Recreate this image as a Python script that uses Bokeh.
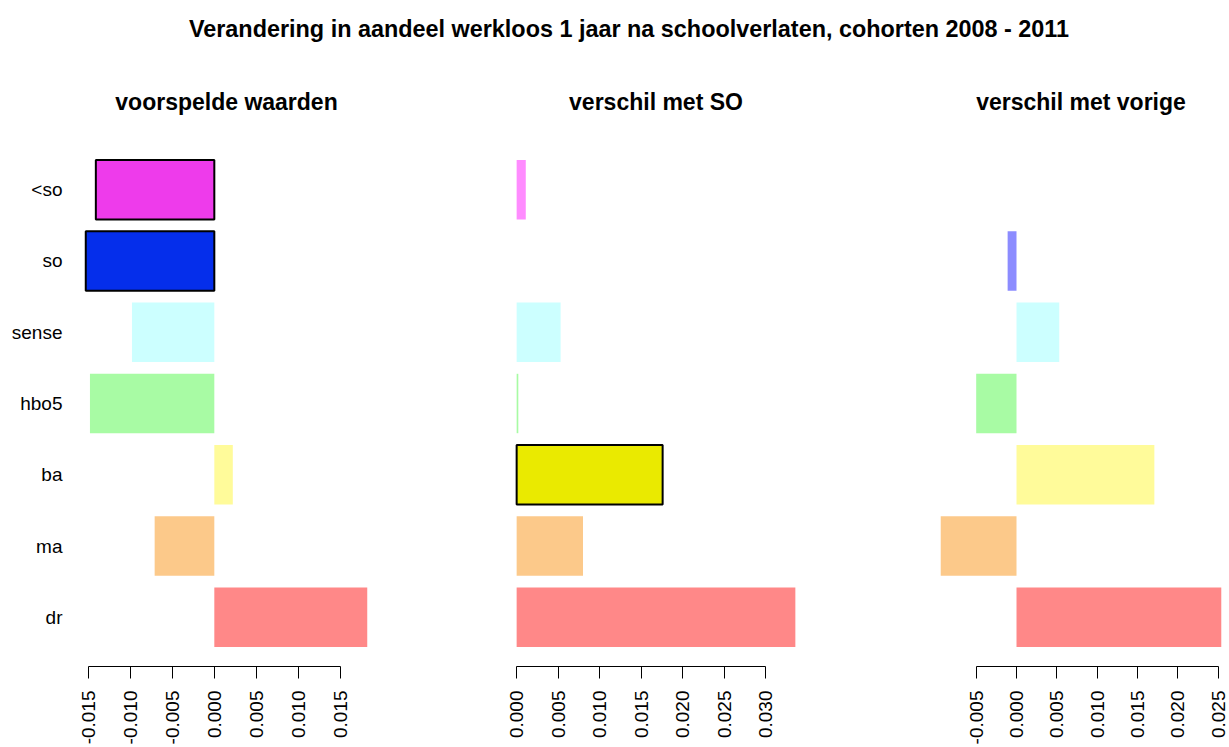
import math
from bokeh.plotting import figure
from bokeh.models import Range1d, FactorRange, FixedTicker, PrintfTickFormatter, ColumnDataSource
from bokeh.layouts import column, row
from bokeh.embed import file_html
from bokeh.resources import INLINE
from bokeh.core.properties import value

# ---------------- data ----------------
main_title = "Verandering in aandeel werkloos 1 jaar na schoolverlaten, cohorten 2008 - 2011"
panel_titles = ["voorspelde waarden", "verschil met SO", "verschil met vorige"]
categories = ["<so", "so", "sense", "hbo5", "ba", "ma", "dr"]
voorspelde_waarden = [-0.0141, -0.0153, -0.0098, -0.0148, 0.0022, -0.0071, 0.0182]
verschil_met_so = [0.0011, 0.0, 0.0053, 0.0002, 0.0176, 0.0080, 0.0336]
verschil_met_vorige = [0.0, -0.0011, 0.0053, -0.0050, 0.0171, -0.0094, 0.0254]
ticks_1 = [-0.015, -0.010, -0.005, 0.0, 0.005, 0.010, 0.015]
ticks_2 = [0.0, 0.005, 0.010, 0.015, 0.020, 0.025, 0.030]
ticks_3 = [-0.005, 0.0, 0.005, 0.010, 0.015, 0.020, 0.025]
highlight_1 = ["<so", "so"]
highlight_2 = ["ba"]
highlight_3 = []

# ---------------- styles ----------------
full_colors = {"<so": "#EE3BEB", "so": "#052EEB", "sense": "#00EEEE", "hbo5": "#00EE00",
               "ba": "#EAEA00", "ma": "#EE9A00", "dr": "#EE0000"}
light_colors = {"<so": "#FF8CFF", "so": "#8C8CFF", "sense": "#CCFFFF", "hbo5": "#A8FBA4",
                "ba": "#FFFB9A", "ma": "#FCC98A", "dr": "#FF8888"}
FONT = "Liberation Sans"
TOTAL_W = 1229
HEADER_H = 140
PANEL_H = 607
FRAME_H = 527

def make_panel(vals, ticks, highlight, border_left, frame_w, border_right, show_labels, visible_w=None):
    lo = min(0.0, min(vals))
    hi = max(0.0, max(vals))
    d = 0.04 * (hi - lo)
    start, end = lo - d, hi + d
    fw = frame_w
    if visible_w is not None:
        end = start + (end - start) * visible_w / frame_w
        fw = visible_w
    p = figure(width=border_left + fw + border_right, height=PANEL_H,
               x_range=Range1d(start, end),
               y_range=FactorRange(factors=categories[::-1], range_padding=0.19,
                                   range_padding_units="absolute"),
               min_border_left=border_left, min_border_right=border_right,
               min_border_top=0, min_border_bottom=PANEL_H - FRAME_H,
               toolbar_location=None, output_backend="svg", title=None)
    src = ColumnDataSource(dict(
        cat=categories,
        left=[min(0.0, v) for v in vals],
        right=[max(0.0, v) for v in vals],
        color=[full_colors[c] if c in highlight else light_colors[c] for c in categories],
        lalpha=[1.0 if c in highlight else 0.0 for c in categories],
    ))
    p.hbar(y="cat", left="left", right="right", height=1 / 1.2, source=src,
           fill_color="color", line_color="black", line_alpha="lalpha", line_width=2)
    p.grid.visible = False
    p.outline_line_color = None
    p.background_fill_color = "white"
    p.border_fill_color = "white"
    xa = p.xaxis[0]
    xa.ticker = FixedTicker(ticks=ticks)
    xa.bounds = (ticks[0], ticks[-1])
    xa.formatter = PrintfTickFormatter(format="%.3f")
    xa.major_label_orientation = math.pi / 2
    xa.major_label_text_font = FONT
    xa.major_label_text_font_size = "19px"
    xa.major_label_text_color = "black"
    xa.major_tick_out = 12
    xa.major_tick_in = 0
    xa.major_label_standoff = 12
    xa.minor_tick_line_color = None
    xa.axis_line_color = "black"
    xa.major_tick_line_color = "black"
    ya = p.yaxis[0]
    if show_labels:
        ya.axis_line_color = None
        ya.major_tick_line_color = None
        ya.major_tick_out = 0
        ya.major_tick_in = 0
        ya.major_label_standoff = 12
        ya.major_label_text_font = FONT
        ya.major_label_text_font_size = "19px"
        ya.major_label_text_color = "black"
    else:
        ya.visible = False
    return p

geom = [  # (border_left, frame_w, border_right, visible_w)
    (74, 304, 62, None),
    (65, 301, 64, None),
    (59, 303, 0, 300),
]
p1 = make_panel(voorspelde_waarden, ticks_1, highlight_1, *geom[0][:3], True, geom[0][3])
p2 = make_panel(verschil_met_so, ticks_2, highlight_2, *geom[1][:3], False, geom[1][3])
p3 = make_panel(verschil_met_vorige, ticks_3, highlight_3, *geom[2][:3], False, geom[2][3])
panels = [p1, p2, p3]

# header with main title and panel titles centred over each frame
offsets = []
x0 = 0
for p in panels:
    offsets.append(x0)
    x0 += p.width
centers = [offsets[i] + geom[i][0] + geom[i][1] / 2 for i in range(3)]

h = figure(width=TOTAL_W, height=HEADER_H, x_range=Range1d(0, TOTAL_W), y_range=Range1d(HEADER_H, 0),
           min_border=0, toolbar_location=None, output_backend="svg", title=None)
h.axis.visible = False
h.grid.visible = False
h.outline_line_color = None
h.text(x=[628.5], y=[28.3], text=[main_title], text_align="center", text_baseline="alphabetic",
       text_font=value(FONT), text_font_style="bold", text_font_size="23.4px", text_color="black")
h.text(x=centers, y=[101.7] * 3, text=panel_titles, text_align="center", text_baseline="alphabetic",
       text_font=value(FONT), text_font_style="bold", text_font_size="23px", text_color="black")

layout = column(h, row(*panels, spacing=0), spacing=0)
open("out.html", "w").write(file_html(layout, INLINE))
